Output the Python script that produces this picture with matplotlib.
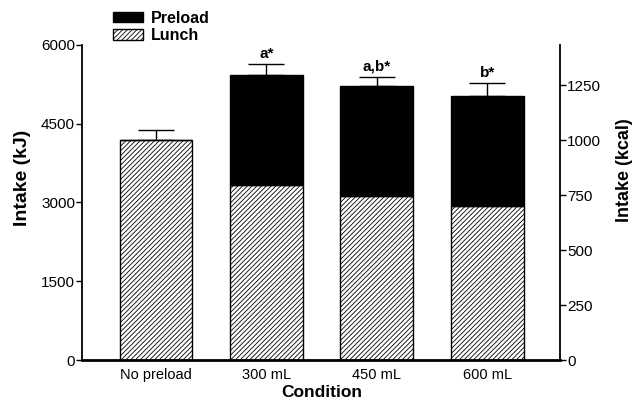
import numpy as np
import matplotlib
matplotlib.use("Agg")
import matplotlib.pyplot as plt
from matplotlib.patches import Patch

plt.rcParams['font.family'] = ['Liberation Sans', 'DejaVu Sans']
plt.rcParams['hatch.linewidth'] = 0.6

conditions = ["No preload", "300 mL", "450 mL", "600 mL"]
lunch = [4190, 3335, 3125, 2935]        # kJ
preload = [0, 2100, 2095, 2095]         # kJ, stacked on lunch
err = [190, 205, 180, 245]              # SEM of total, kJ
sig = ["", "a*", "a,b*", "b*"]
kj_per_kcal = 4.184

x = np.arange(len(conditions))
total = np.array(lunch) + np.array(preload)

fig = plt.figure(figsize=(6.35, 4.09), dpi=100)
ax = fig.add_axes([82 / 635, 1 - 360 / 409, 478 / 635, 315 / 409])

w = 0.66
ax.bar(x, lunch, w, color='white', edgecolor='black', hatch='///////', linewidth=1, zorder=2)
ax.bar(x, preload, w, bottom=lunch, color='black', edgecolor='black', linewidth=1, zorder=2)
ax.errorbar(x, total, yerr=[np.zeros(len(x)), err], fmt='none', ecolor='black',
            elinewidth=1, capsize=13, capthick=1, zorder=1)
for xi, t, e, s in zip(x, total, err, sig):
    if s:
        ax.text(xi, t + e + 60, s, ha='center', va='bottom', fontsize=11, fontweight='bold')

ax.set_xlim(-0.67, 3.66)
ax.set_ylim(0, 6000)
ax.set_yticks([0, 1500, 3000, 4500, 6000])
ax.set_xticks(x)
ax.set_xticklabels(conditions, fontsize=10.5)
ax.tick_params(axis='x', length=0, pad=6)
ax.tick_params(axis='y', labelsize=11, length=4, width=1, pad=1)
ax.spines['top'].set_visible(False)
ax.spines['right'].set_visible(False)
ax.spines['left'].set_linewidth(1.3)
ax.spines['bottom'].set_linewidth(2)
ax.text(-0.125, 0.578, "Intake (kJ)", transform=ax.transAxes, rotation=90,
        ha='center', va='center', fontsize=14, fontweight='bold')
ax.text(0.502, -0.102, "Condition", transform=ax.transAxes,
        ha='center', va='center', fontsize=12.5, fontweight='bold')

ax2 = ax.twinx()
ax2.set_ylim(0, 6000 / kj_per_kcal)
ax2.set_yticks([0, 250, 500, 750, 1000, 1250])
ax2.tick_params(axis='y', labelsize=11, length=4, width=1, pad=1)
ax2.spines['top'].set_visible(False)
ax2.spines['left'].set_visible(False)
ax2.spines['bottom'].set_visible(False)
ax2.spines['right'].set_linewidth(1.3)
ax2.text(1.134, 0.603, "Intake (kcal)", transform=ax2.transAxes, rotation=90,
         ha='center', va='center', fontsize=13, fontweight='bold')

handles = [Patch(facecolor='black', edgecolor='black', label='Preload'),
           Patch(facecolor='white', edgecolor='black', hatch='///////', label='Lunch')]
fig.legend(handles=handles, loc='upper left', bbox_to_anchor=(100 / 635, 1 + 2 / 409),
           frameon=False, prop={'weight': 'bold', 'size': 11.5},
           handlelength=1.9, handleheight=0.65, handletextpad=0.5, labelspacing=0.15,
           borderpad=0.3)

fig.savefig("out.png", dpi=100)
